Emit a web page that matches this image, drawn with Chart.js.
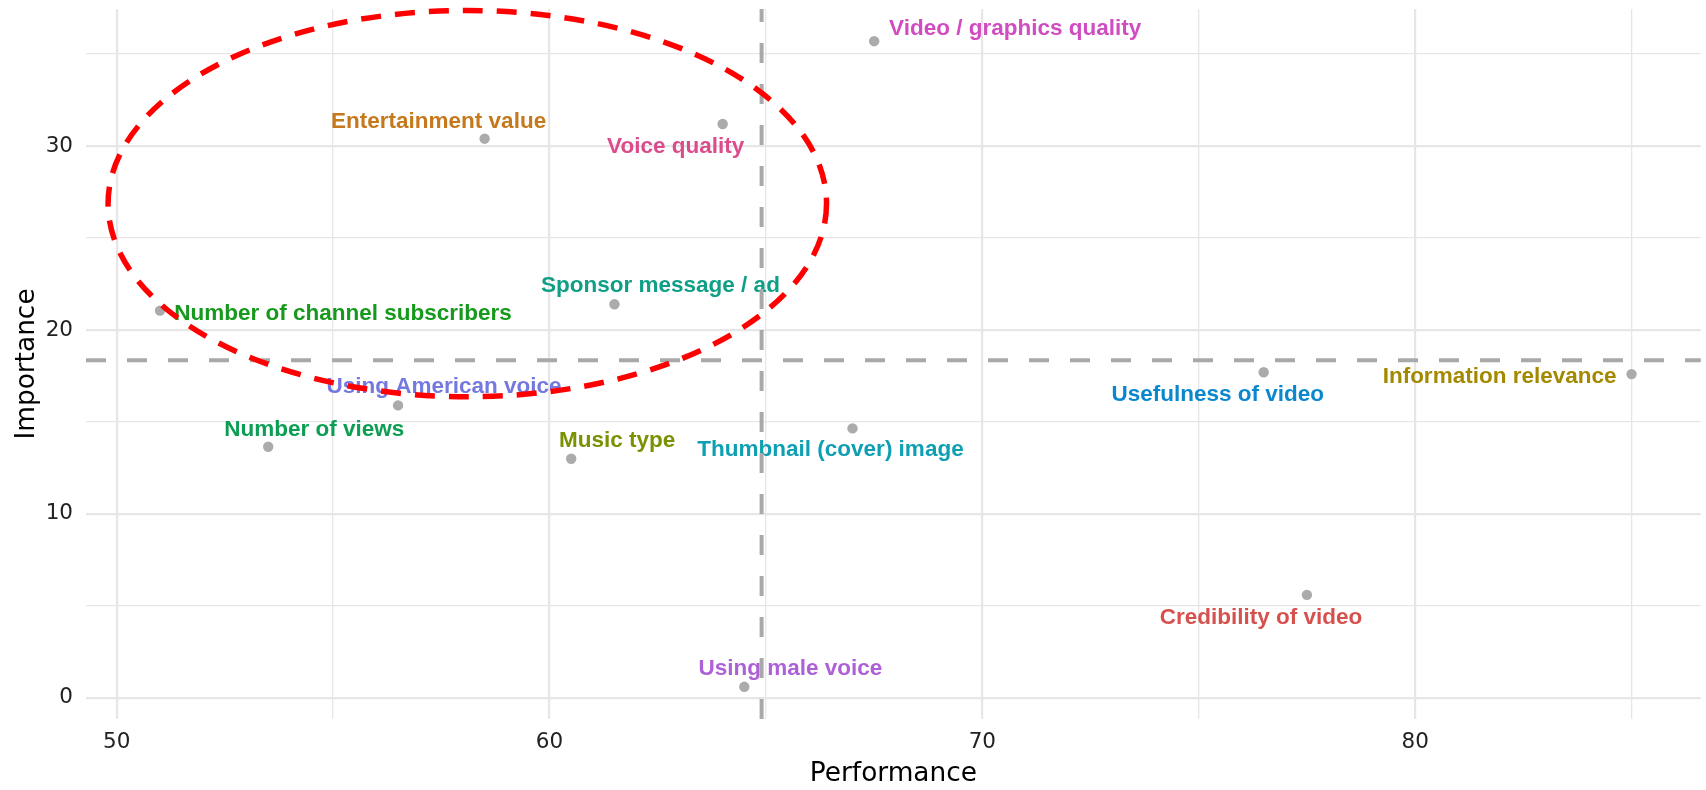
<!DOCTYPE html>
<html>
<head>
<meta charset="utf-8">
<script src="https://cdn.jsdelivr.net/npm/chart.js@4.4.1/dist/chart.umd.min.js"></script>
<style>
  html, body { margin: 0; padding: 0; background: #fff; }
  canvas { display: block; }
</style>
</head>
<body>
<canvas id="quadChart" width="1706" height="790"></canvas>
<script>
// attributes
const attributes = [
    "Entertainment value",
    "Number of channel subscribers",
    "Voice quality",
    "Video / graphics quality",
    "Sponsor message / ad",
    "Using American voice",
    "Number of views",
    "Music type",
    "Thumbnail (cover) image",
    "Using male voice",
    "Usefulness of video",
    "Information relevance",
    "Credibility of video"
];
const performanceScores = [58.5, 51.0, 64.0, 67.5, 61.5, 56.5, 53.5, 60.5, 67.0, 64.5, 76.5, 85.0, 77.5];
const importanceScores = [30.4, 21.05, 31.2, 35.7, 21.4, 15.9, 13.65, 13.0, 14.65, 0.6, 17.7, 17.6, 5.6];

// reference lines (averages)
const perfMean = 64.9;
const impMean = 18.35;

// tick / grid values
const xTickValues = [50, 55, 60, 65, 70, 75, 80, 85];
const yTickValues = [0, 5, 10, 15, 20, 25, 30, 35];

// label colours (ggplot-ish hues)
const labelColors = [
    "#c5781c", "#17991d", "#dc4b8c", "#d14cc0", "#0f9f86", "#7478df", "#0c9e52",
    "#7a9100", "#0e9fb3", "#ae60d8", "#0a88cf", "#a38900", "#d6514d"
];
// label offsets from point, px (dx to text centre, dy to baseline)
const labelOffsets = [
    [-46, -11], [183, 9], [-47, 29], [141, -6], [46, -12], [46, -12.5], [46, -11],
    [46, -12], [-22, 28], [46, -11.5], [-46, 29], [-132, 9], [-46, 29]
];

// highlighted region (data units)
const ellipseCenter = [58.1, 26.87];
const ellipseRadius = [8.3, 10.5];

const xRange = [49.29, 86.6];
const yRange = [-1.15, 37.45];

const labelFont = '"Liberation Sans", Arial, sans-serif';
const axisFont = '"DejaVu Sans", sans-serif';

const quadrantPlugin = {
    id: "quadrant",
    afterDatasetsDraw(chart) {
        const { ctx, chartArea, scales } = chart;
        const meta = chart.getDatasetMeta(0);
        ctx.save();

        // text labels
        ctx.font = "bold 22.5px " + labelFont;
        ctx.textAlign = "center";
        ctx.textBaseline = "alphabetic";
        meta.data.forEach((pt, i) => {
            ctx.fillStyle = labelColors[i];
            ctx.fillText(attributes[i], pt.x + labelOffsets[i][0], pt.y + labelOffsets[i][1]);
        });

        // mean lines
        ctx.strokeStyle = "#a9a9a9";
        ctx.lineWidth = 4;
        ctx.setLineDash([20, 21]);
        const hy = scales.y.getPixelForValue(impMean);
        ctx.beginPath();
        ctx.moveTo(chartArea.left, hy);
        ctx.lineTo(chartArea.right, hy);
        ctx.stroke();
        const vx = scales.x.getPixelForValue(perfMean);
        ctx.beginPath();
        ctx.moveTo(vx, chartArea.bottom);
        ctx.lineTo(vx, chartArea.top);
        ctx.stroke();

        // red dashed ellipse
        const cx = scales.x.getPixelForValue(ellipseCenter[0]);
        const cy = scales.y.getPixelForValue(ellipseCenter[1]);
        const rx = Math.abs(scales.x.getPixelForValue(ellipseCenter[0] + ellipseRadius[0]) - cx);
        const ry = Math.abs(scales.y.getPixelForValue(ellipseCenter[1] + ellipseRadius[1]) - cy);
        ctx.strokeStyle = "#ff0000";
        ctx.lineWidth = 5.5;
        ctx.setLineDash([20, 14]);
        ctx.beginPath();
        ctx.ellipse(cx, cy, rx, ry, 0, 0, Math.PI * 2);
        ctx.stroke();

        ctx.restore();
    }
};

const gridWidth = c => (c.tick && c.tick.value % 10 === 0 ? 2.2 : 1.3);

new Chart(document.getElementById("quadChart").getContext("2d"), {
    type: "scatter",
    data: {
        datasets: [{
            data: performanceScores.map((p, i) => ({ x: p, y: importanceScores[i] })),
            backgroundColor: "#ababab",
            borderWidth: 0,
            pointRadius: 5.2,
            pointHoverRadius: 5.2
        }]
    },
    options: {
        responsive: false,
        animation: false,
        devicePixelRatio: 1,
        events: [],
        layout: { padding: { top: 9, right: 0, bottom: 0, left: 0 } },
        plugins: { legend: { display: false }, tooltip: { enabled: false } },
        scales: {
            x: {
                type: "linear",
                min: xRange[0],
                max: xRange[1],
                afterBuildTicks: s => { s.ticks = xTickValues.map(v => ({ value: v })); },
                afterFit: s => { s.height = 71; s.paddingLeft = 0; s.paddingRight = 0; },
                grid: { color: "#e6e6e6", lineWidth: gridWidth, drawTicks: false },
                border: { display: false },
                ticks: {
                    padding: 11,
                    color: "#222",
                    autoSkip: false,
                    maxRotation: 0,
                    font: { size: 21.5, family: axisFont },
                    callback: v => (v % 10 === 0 ? v : "")
                },
                title: {
                    display: true,
                    text: "Performance",
                    color: "#000",
                    font: { size: 26.4, family: axisFont },
                    padding: { top: 0, bottom: 0 }
                }
            },
            y: {
                type: "linear",
                min: yRange[0],
                max: yRange[1],
                afterBuildTicks: s => { s.ticks = yTickValues.map(v => ({ value: v })); },
                afterFit: s => { s.width = 86; s.paddingTop = 0; s.paddingBottom = 0; },
                grid: { color: "#e6e6e6", lineWidth: gridWidth, drawTicks: false },
                border: { display: false },
                ticks: {
                    padding: 13,
                    color: "#222",
                    autoSkip: false,
                    font: { size: 21.5, family: axisFont },
                    callback: v => (v % 10 === 0 ? v : "")
                },
                title: {
                    display: true,
                    text: "Importance",
                    color: "#000",
                    font: { size: 26.4, family: axisFont },
                    padding: { top: 11.5, bottom: 0 }
                }
            }
        }
    },
    plugins: [quadrantPlugin]
});
</script>
</body>
</html>
